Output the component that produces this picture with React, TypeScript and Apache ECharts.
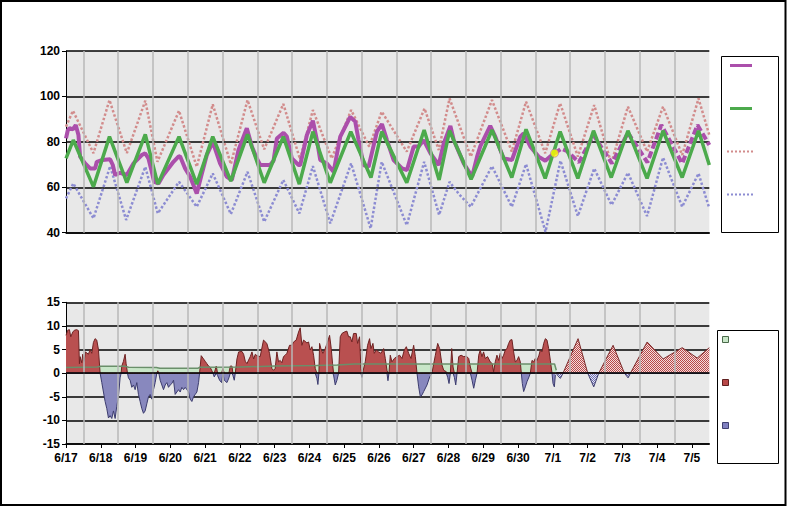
import React, { useEffect, useRef } from 'react';
import * as echarts from 'echarts';

// x values are days since 6/17 00:00
const dayLabels = ['6/17', '6/18', '6/19', '6/20', '6/21', '6/22', '6/23', '6/24', '6/25', '6/26', '6/27', '6/28', '6/29', '6/30', '7/1', '7/2', '7/3', '7/4', '7/5'];

const observedTemp: [number, number][] = [
  [0, 81.5], [0.05, 85], [0.1, 86], [0.195, 85.5], [0.28, 87.4], [0.358, 83], [0.406, 73.5], [0.55, 70.5], [0.693, 68.3], [0.837, 68.3], [0.885, 71.2], [1.05, 72], [1.269, 72.3], [1.346, 69.8], [1.413, 65.4], [1.556, 66.4], [1.748, 65.4], [1.94, 70.5], [2.18, 74.2], [2.276, 75], [2.371, 72.7], [2.467, 66.8], [2.534, 62.4], [2.66, 61.7], [2.8, 65.4], [3.09, 71.2], [3.234, 73.5], [3.28, 73.7], [3.426, 68.3], [3.57, 64.6], [3.76, 57.3], [3.906, 66], [4.05, 74.2], [4.22, 80], [4.43, 70.5], [4.625, 64.6], [4.77, 63.2], [4.96, 76.4], [5.2, 86], [5.345, 78], [5.488, 72.7], [5.584, 69.8], [5.872, 69.8], [5.968, 71.7], [6.064, 81.5], [6.256, 84], [6.352, 82.3], [6.496, 72.7], [6.688, 69.8], [6.736, 69.8], [6.928, 83], [7.1, 89.3], [7.215, 80.8], [7.311, 72], [7.503, 70.5], [7.695, 66.8], [7.887, 82.3], [8.174, 91], [8.318, 88.9], [8.414, 80.8], [8.558, 69.8], [8.702, 69], [8.942, 84.5], [9.086, 87.8], [9.23, 80.8], [9.422, 72], [9.662, 68.3], [9.806, 67.6], [9.998, 77.9], [10.142, 77.9], [10.286, 80.8], [10.478, 75], [10.718, 69.8], [10.862, 79.3], [11.054, 87], [11.15, 80.8], [11.438, 70.5], [11.678, 64.6], [11.822, 73.5], [11.913, 78], [12.2, 87], [12.345, 82.3], [12.585, 72.7], [12.824, 72], [13.064, 82.3], [13.16, 83.7], [13.352, 78], [13.59, 73.5], [13.783, 71.7], [13.975, 74.2], [14.05, 75],
];

const forecastTemp: [number, number][] = [
  [14.05, 75], [14.25, 77], [14.4, 76], [14.75, 71], [15.17, 83], [15.7, 70.5], [16.16, 84], [16.72, 71], [17.12, 87.4], [17.72, 70.5], [18.16, 87.4], [18.5, 78.6],
];

const normalTemp: [number, number][] = [
  [0, 72.7], [0.21, 80.8], [0.79, 60.2], [1.25, 82.3], [1.75, 62], [2.28, 83.3], [2.64, 61.4], [3.25, 82.3], [3.76, 61.4], [4.22, 82.3], [4.74, 62.7], [5.22, 83.3], [5.7, 62], [6.25, 82.3], [6.71, 61.4], [7.1, 84.5], [7.6, 62], [8.19, 84.5], [8.77, 64.3], [9.08, 84.5], [9.8, 62], [10.3, 85.2], [10.73, 63.2], [11.03, 84.9], [11.65, 63.5], [12.25, 85.2], [12.82, 64.3], [13.23, 85.5], [13.78, 63.9], [14.21, 84.5], [14.72, 63.9], [15.17, 84.9], [15.68, 64.3], [16.16, 84.9], [16.71, 63.9], [17.17, 84.9], [17.72, 64.3], [18.19, 84.9], [18.5, 69.8],
];

const highTemp: [number, number][] = [
  [0, 86.7], [0.2, 93.7], [0.79, 75], [1.25, 98.4], [1.75, 75], [2.28, 98.1], [2.63, 71.2], [3.25, 93.7], [3.76, 69], [4.22, 96.5], [4.74, 70.2], [5.22, 98.4], [5.7, 76.7], [6.25, 96.7], [6.73, 72.3], [7.1, 94], [7.64, 72.7], [8.2, 94], [8.72, 77.9], [9.08, 93.3], [9.8, 75.7], [10.31, 94.7], [10.72, 76.4], [11.03, 99.1], [11.64, 73.5], [12.25, 98.4], [12.82, 75.7], [13.23, 97.7], [13.78, 75], [14.21, 97], [14.72, 73.5], [15.19, 96.2], [15.68, 70.5], [16.16, 95.5], [16.71, 75.7], [17.17, 95.5], [17.72, 74.2], [18.19, 99.1], [18.5, 83],
];

const lowTemp: [number, number][] = [
  [0, 55.1], [0.21, 61.7], [0.79, 46.3], [1.27, 69.3], [1.73, 45.6], [2.28, 69], [2.64, 48.5], [3.25, 62.4], [3.76, 51.4], [4.22, 66.1], [4.74, 48.2], [5.22, 66.8], [5.7, 44.8], [6.25, 63.2], [6.71, 48.5], [7.1, 69.3], [7.6, 44.1], [8.2, 70.5], [8.76, 41.9], [9.08, 71.2], [9.8, 43.3], [10.3, 71.2], [10.73, 47.8], [11.03, 62.4], [11.3, 57], [11.64, 51.4], [12.25, 69.3], [12.82, 51.4], [13.23, 70.2], [13.79, 40.4], [14.22, 71.7], [14.72, 47.3], [15.19, 68.3], [15.69, 52.2], [16.16, 66.4], [16.71, 47.3], [17.17, 73.1], [17.72, 51.4], [18.19, 66.1], [18.5, 50.7],
];

const nowPoint: [number, number][] = [[14.05, 75]];

const observedDeparture: [number, number][] = [
  [0, 8], [0.051, 9.1], [0.099, 9.2], [0.137, 7.7], [0.195, 8.7], [0.243, 9.1], [0.31, 9.2], [0.358, 9], [0.386, 2], [0.405, 3.5], [0.453, 2.2], [0.482, 4], [0.521, 2.5], [0.559, 4.5], [0.645, 4], [0.693, 5], [0.741, 4.2], [0.789, 6.5], [0.837, 7.3], [0.885, 7], [0.933, 5], [0.981, 0],
  [1.029, -2], [1.077, -4], [1.125, -6], [1.173, -7.5], [1.221, -9.5], [1.269, -9], [1.317, -9.6], [1.365, -8], [1.413, -9.6], [1.46, -7], [1.508, -5], [1.556, -1], [1.585, 0], [1.605, 1.5], [1.652, 2.5], [1.7, 4], [1.729, 2], [1.768, 0], [1.796, -1], [1.844, -1.5], [1.892, -3], [1.94, -2.5], [1.988, -3.5],
  [2.036, -2], [2.084, -4.5], [2.132, -6], [2.18, -7.5], [2.228, -8.5], [2.276, -8], [2.324, -6.5], [2.372, -5], [2.42, -4.5], [2.468, -5.5], [2.516, -3.5], [2.564, -2], [2.612, 0], [2.64, 0.5], [2.669, 0], [2.708, -1.5], [2.756, -2.5], [2.804, -3.5], [2.852, -2.5], [2.9, -2], [2.948, -3], [2.996, -2.5],
  [3.044, -2.2], [3.092, -1.5], [3.14, -4.5], [3.188, -4], [3.236, -3.5], [3.284, -4], [3.332, -3], [3.38, -3.5], [3.428, -3], [3.476, -3.5], [3.524, -4], [3.572, -5.5], [3.62, -6], [3.668, -5], [3.716, -4.5], [3.764, -4], [3.812, -2], [3.841, 0], [3.889, 3.7], [3.956, 3],
  [4.004, 2.5], [4.052, 2], [4.1, 1.5], [4.148, 1.2], [4.196, 0.5], [4.225, 0], [4.263, -0.8], [4.321, 1.5], [4.359, -0.5], [4.417, -1.5], [4.474, -2], [4.513, 1], [4.551, -1.5], [4.628, -2], [4.685, -1], [4.724, 1.5], [4.772, 1.5], [4.8, -0.5], [4.839, -1.5], [4.868, 0], [4.916, 3], [4.964, 4.5],
  [5.06, 4.6], [5.108, 4], [5.156, 2.5], [5.204, 2], [5.252, 2.8], [5.3, 3.5], [5.348, 4.5], [5.396, 3], [5.444, 4], [5.492, 3.7], [5.584, 3.5], [5.68, 7], [5.776, 6.3], [5.853, 4.2], [5.92, 1], [5.968, 0.6],
  [6.016, 1], [6.064, 4.5], [6.112, 2.4], [6.16, 2.7], [6.208, 2.2], [6.256, 3.5], [6.304, 3.8], [6.352, 4.2], [6.428, 5.9], [6.496, 5.9], [6.544, 6.6], [6.621, 7], [6.688, 8.7], [6.736, 9.6], [6.784, 5.9], [6.832, 7], [6.928, 6.4], [6.976, 6.6],
  [7.024, 4.9], [7.072, 5.6], [7.12, 3.8], [7.168, 1], [7.215, -1.1], [7.244, -2.4], [7.273, 0], [7.292, 6.3], [7.331, 5.2], [7.388, 4.2], [7.455, 5.2], [7.522, 6.6], [7.58, 8], [7.628, 5.2], [7.666, 2], [7.695, -0.4], [7.743, -2.5], [7.791, -1.5], [7.839, 0], [7.887, 7.7], [7.935, 8.4],
  [8.002, 8.7], [8.078, 8.9], [8.126, 7.7], [8.174, 7.7], [8.222, 6.6], [8.27, 8.4], [8.347, 8.4], [8.385, 6.3], [8.442, 7.7], [8.481, 1], [8.51, -0.9], [8.538, 0.3], [8.606, 2.4], [8.673, 5.9], [8.73, 7.3], [8.769, 5.2], [8.827, 6.3], [8.865, 4.2], [8.923, 4.9], [8.99, 4.5],
  [9.057, 4.2], [9.134, 5.2], [9.182, 3.1], [9.23, 0.6], [9.259, -1.6], [9.288, 0], [9.326, 3.8], [9.374, 2.4], [9.441, 3.1], [9.518, 3.5], [9.595, 3.8], [9.662, 3.1], [9.729, 4.9], [9.787, 5.6], [9.854, 4.2], [9.921, 3.1], [9.998, 5.9],
  [10.046, 3.5], [10.094, 0], [10.142, -2.9], [10.19, -5], [10.238, -4.6], [10.286, -3.9], [10.382, -2.5], [10.459, -0.8], [10.526, 0], [10.574, 2], [10.622, 3.8], [10.689, 6.3], [10.746, 5.2], [10.813, 1.7], [10.862, 0.6], [10.938, 0.3], [10.977, -0.9],
  [11.015, -2.2], [11.054, 0], [11.092, 5.2], [11.131, 1.3], [11.169, -0.9], [11.208, -2.5], [11.246, 0], [11.294, 3.5], [11.361, 3.8], [11.438, 3.5], [11.514, 3.6], [11.581, 3.1], [11.629, 1.3], [11.677, -1.5], [11.725, -3.2], [11.773, -1.5], [11.821, 0], [11.869, 3.8], [11.913, 4.9], [11.961, 3.5],
  [12.009, 4.5], [12.057, 3.1], [12.124, 3.5], [12.2, 2.4], [12.258, 2], [12.297, 0.3], [12.345, 2.4], [12.393, 3.8], [12.441, 2.7], [12.489, 4.2], [12.537, 3.1], [12.585, 3.8], [12.633, 4.9], [12.681, 5.2], [12.729, 6.3], [12.777, 7], [12.825, 7.1], [12.873, 4.5], [12.921, 2.4], [12.969, 2.7],
  [13.017, 3.5], [13.065, 2.4], [13.094, 0], [13.123, -2.2], [13.161, -3.9], [13.209, -2.9], [13.257, -1.8], [13.315, -0.8], [13.353, 0], [13.401, 2.7], [13.449, 2.4], [13.497, 3.1], [13.545, 2.7], [13.602, 3.8], [13.641, 4.9], [13.689, 4.5], [13.737, 6.3], [13.785, 7.3], [13.833, 7], [13.881, 5.2], [13.929, 2.7], [13.977, 0],
  [14.006, -2.2], [14.044, -2.9], [14.073, -0.4],
];

const forecastDeparture: [number, number][] = [
  [14.1, 0], [14.14, -0.5], [14.217, -1.1], [14.294, 0], [14.726, 7.3], [15.004, 0], [15.177, -2.9], [15.321, 0], [15.733, 5.9], [16.059, 0], [16.165, -1], [16.232, 0], [16.712, 6.6], [17.173, 3], [17.72, 5.4], [18.152, 3.2], [18.5, 5.4],
];

const departureBand: [number, number][] = [
  [0, 1.2], [0.9, 1.3], [1.0, 1.45], [1.7, 1.45], [1.8, 1.25], [2.6, 1.2], [2.7, 1.05], [3.8, 1.05], [3.85, 1.25], [5.0, 1.3], [6.0, 1.5], [7.2, 1.6], [7.8, 1.7], [8.3, 1.95], [14.05, 1.95], [14.1, 0.6],
];

const FONT = '"Liberation Sans", Arial, sans-serif';
const NARROW = '"Liberation Sans Narrow", "Liberation Sans", Arial, sans-serif';

function makePattern(fg: string, bg: string) {
  const c = document.createElement('canvas');
  c.width = 2;
  c.height = 2;
  const ctx = c.getContext('2d')!;
  ctx.fillStyle = bg;
  ctx.fillRect(0, 0, 2, 2);
  ctx.fillStyle = fg;
  ctx.fillRect(0, 0, 1, 1);
  ctx.fillRect(1, 1, 1, 1);
  return { image: c, repeat: 'repeat', imageWidth: 2, imageHeight: 2 } as any;
}

export default function App() {
  const ref = useRef<HTMLDivElement>(null);

  useEffect(() => {
    if (!ref.current) return;
    const chart = echarts.init(ref.current, undefined, { renderer: 'svg' });

    const dayTicks = dayLabels.map((_, i) => i);
    const midDays = dayLabels.slice(0, dayLabels.length - 1).map((_, i) => i + 0.5);
    const pos = (arr: [number, number][]) => arr.map(([x, v]) => [x, v > 0 ? v : 0]);
    const neg = (arr: [number, number][]) => arr.map(([x, v]) => [x, v < 0 ? v : 0]);

    const vGrid = (gi: number) => ({
      type: 'line',
      xAxisIndex: gi,
      yAxisIndex: gi,
      data: [],
      z: 1,
      silent: true,
      markLine: {
        silent: true,
        symbol: ['none', 'none'],
        label: { show: false },
        animation: false,
        lineStyle: { color: '#b8b8b8', width: 1.5, type: 'solid' },
        data: midDays.map((d) => ({ xAxis: d })),
      },
    });

    const yLabel = { color: '#000', fontWeight: 'bold', fontSize: 12, fontFamily: FONT, margin: 6 };

    const option: any = {
      animation: false,
      grid: [
        { left: 66, right: 77.7, top: 51, height: 181.7, show: true, backgroundColor: '#e8e8e8', borderWidth: 0 },
        { left: 66, right: 77.7, top: 302.3, height: 141.7, show: true, backgroundColor: '#e8e8e8', borderWidth: 0 },
      ],
      xAxis: [
        {
          type: 'value', gridIndex: 0, min: 0, max: 18.5, interval: 1,
          axisLine: { show: true, onZero: false, lineStyle: { color: '#000', width: 1.5 } },
          axisTick: { show: false },
          axisLabel: { show: false },
          splitLine: { show: false },
        },
        {
          type: 'value', gridIndex: 1, min: 0, max: 18.5, interval: 1,
          axisLine: { show: true, onZero: false, lineStyle: { color: '#000', width: 1.5 } },
          axisTick: { show: true, length: 4, customValues: dayTicks, lineStyle: { color: '#000', width: 1 } },
          axisLabel: {
            customValues: dayTicks,
            formatter: (v: number) => dayLabels[Math.round(v)] ?? '',
            color: '#000', fontWeight: 'bold', fontSize: 12, fontFamily: NARROW, margin: 8,
          },
          splitLine: { show: false },
        },
      ],
      yAxis: [
        {
          type: 'value', gridIndex: 0, min: 40, max: 120, interval: 20,
          axisLine: { show: true, onZero: false, lineStyle: { color: '#000', width: 1 } },
          axisTick: { show: true, length: 4, lineStyle: { color: '#000' } },
          axisLabel: yLabel,
          splitLine: { show: true, lineStyle: { color: '#000', width: 1.5 } },
        },
        {
          type: 'value', gridIndex: 1, min: -15, max: 15, interval: 5,
          axisLine: { show: true, onZero: false, lineStyle: { color: '#000', width: 1 } },
          axisTick: { show: true, length: 4, lineStyle: { color: '#000' } },
          axisLabel: yLabel,
          splitLine: { show: true, lineStyle: { color: '#000', width: 1.5 } },
        },
      ],
      series: [
        vGrid(0),
        vGrid(1),
        // top chart
        {
          name: 'Low', type: 'line', xAxisIndex: 0, yAxisIndex: 0, data: lowTemp, symbol: 'none', z: 2,
          lineStyle: { color: '#8c8cd2', width: 2.5, type: [2.5, 2] },
        },
        {
          name: 'High', type: 'line', xAxisIndex: 0, yAxisIndex: 0, data: highTemp, symbol: 'none', z: 2,
          lineStyle: { color: '#d28c8c', width: 2.5, type: [2.5, 2] },
        },
        {
          name: 'Observed', type: 'line', xAxisIndex: 0, yAxisIndex: 0, data: observedTemp, symbol: 'none', z: 3,
          lineStyle: { color: '#ab4fab', width: 4 },
        },
        {
          name: 'Forecast', type: 'line', xAxisIndex: 0, yAxisIndex: 0, data: forecastTemp, symbol: 'none', z: 3,
          lineStyle: { color: '#ab4fab', width: 4, type: [7, 3] },
        },
        {
          name: 'Normal', type: 'line', xAxisIndex: 0, yAxisIndex: 0, data: normalTemp, symbol: 'none', z: 4,
          lineStyle: { color: '#4caa4c', width: 3.5 },
        },
        {
          name: 'Now', type: 'scatter', xAxisIndex: 0, yAxisIndex: 0, data: nowPoint, z: 6,
          symbolSize: 8, itemStyle: { color: '#ffff00', borderColor: '#b070b0', borderWidth: 0.8 },
        },
        // bottom chart
        {
          name: 'BandArea', type: 'line', xAxisIndex: 1, yAxisIndex: 1, data: departureBand, symbol: 'none', z: 2,
          lineStyle: { width: 0 }, areaStyle: { color: '#c8e6c8', opacity: 1 },
        },
        {
          name: 'Above', type: 'line', xAxisIndex: 1, yAxisIndex: 1, data: pos(observedDeparture), symbol: 'none', z: 3,
          lineStyle: { color: '#6e2222', width: 1 }, areaStyle: { color: '#b95050', opacity: 1 },
        },
        {
          name: 'Below', type: 'line', xAxisIndex: 1, yAxisIndex: 1, data: neg(observedDeparture), symbol: 'none', z: 3,
          lineStyle: { color: '#3c3c6e', width: 1 }, areaStyle: { color: '#8888be', opacity: 1 },
        },
        {
          name: 'AboveF', type: 'line', xAxisIndex: 1, yAxisIndex: 1, data: pos(forecastDeparture), symbol: 'none', z: 3,
          lineStyle: { color: '#7a2a2a', width: 1 }, areaStyle: { color: makePattern('#b84848', '#f4dcdc'), opacity: 1 },
        },
        {
          name: 'BelowF', type: 'line', xAxisIndex: 1, yAxisIndex: 1, data: neg(forecastDeparture), symbol: 'none', z: 3,
          lineStyle: { color: '#3c3c6e', width: 1 }, areaStyle: { color: makePattern('#7070b0', '#e4e4f4'), opacity: 1 },
        },
        {
          name: 'BandLine', type: 'line', xAxisIndex: 1, yAxisIndex: 1, data: departureBand, symbol: 'none', z: 4,
          lineStyle: { color: '#6a8f6a', width: 1.5 },
          markLine: {
            silent: true, symbol: ['none', 'none'], label: { show: false }, animation: false,
            lineStyle: { color: '#000', width: 1.5, type: 'solid' },
            data: [{ yAxis: 0 }],
          },
        },
      ],
      graphic: [
        { type: 'rect', silent: true, z: 100, shape: { x: 1, y: 1, width: 784.5, height: 504 }, style: { fill: 'none', stroke: '#000', lineWidth: 2 } },
        // top legend
        { type: 'rect', silent: true, shape: { x: 721.5, y: 56.5, width: 57, height: 176 }, style: { fill: '#fff', stroke: '#000', lineWidth: 1 } },
        { type: 'line', silent: true, shape: { x1: 730, y1: 65.5, x2: 752, y2: 65.5 }, style: { stroke: '#ab4fab', lineWidth: 3 } },
        { type: 'line', silent: true, shape: { x1: 730, y1: 108.5, x2: 752, y2: 108.5 }, style: { stroke: '#4caa4c', lineWidth: 3 } },
        { type: 'line', silent: true, shape: { x1: 727, y1: 151.5, x2: 755, y2: 151.5 }, style: { stroke: '#d28c8c', lineWidth: 2, lineDash: [2, 2] } },
        { type: 'line', silent: true, shape: { x1: 727, y1: 194.5, x2: 755, y2: 194.5 }, style: { stroke: '#8c8cd2', lineWidth: 2, lineDash: [2, 2] } },
        // bottom legend
        { type: 'rect', silent: true, shape: { x: 717.5, y: 330.5, width: 61, height: 133 }, style: { fill: '#fff', stroke: '#000', lineWidth: 1 } },
        { type: 'rect', silent: true, shape: { x: 722.5, y: 336.5, width: 6, height: 6 }, style: { fill: '#c8e6c8', stroke: '#4a6a4a', lineWidth: 1 } },
        { type: 'rect', silent: true, shape: { x: 722.5, y: 379.5, width: 6, height: 6 }, style: { fill: '#b84848', stroke: '#602020', lineWidth: 1 } },
        { type: 'rect', silent: true, shape: { x: 722.5, y: 422.5, width: 6, height: 6 }, style: { fill: '#8080c0', stroke: '#404070', lineWidth: 1 } },
      ],
    };

    chart.setOption(option);
    return () => chart.dispose();
  }, []);

  return (
    <div style={{ position: 'fixed', left: 0, top: 0, width: 787, height: 507, background: '#fff' }}>
      <div ref={ref} style={{ width: 787, height: 507 }} />
    </div>
  );
}
